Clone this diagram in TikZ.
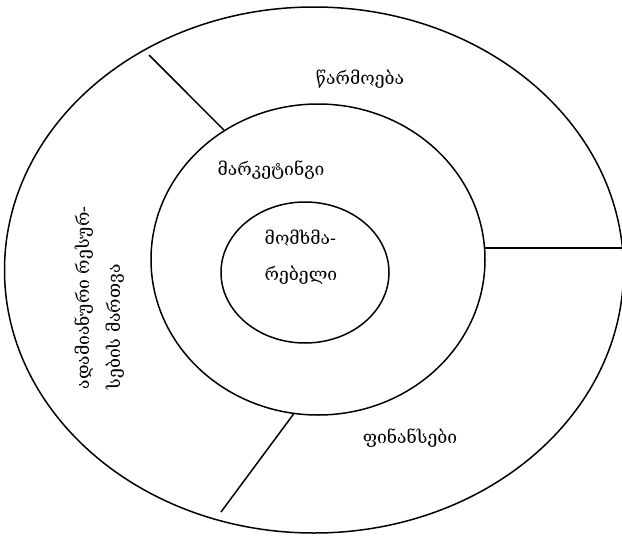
\documentclass[tikz,border=0pt]{standalone}
\usepackage{fontspec}
\setmainfont{DejaVu Serif}
\usetikzlibrary{shapes.geometric}
\begin{document}
\begin{tikzpicture}[x=1pt,y=-1pt,
  ring/.style={draw, ellipse, line width=1.5pt, inner sep=0pt},
  sep/.style={line width=1.5pt},
  lbl/.style={font=\fontsize{17.5}{36}\selectfont, align=center, inner sep=0pt}]
\useasboundingbox (0,0) rectangle (622,536);
\node[ring, minimum width=619pt, minimum height=526pt] (outer) at (314,270) {};
\node[ring, minimum width=334pt, minimum height=311pt] (mid) at (318,259.5) {};
\node[ring, minimum width=168pt, minimum height=141pt] (inner) at (305,272.5) {};
\coordinate (tl) at (149,55);
\coordinate (bl) at (221,512);
\draw[sep] (mid.126) -- (tl);
\draw[sep] (mid.4) -- (mid.4 -| outer.east);
\draw[sep] (mid.261) -- (bl);
\node[lbl] (prod) at (360,79) {წარმოება};
\node[lbl] (mark) at (271,170) {მარკეტინგი};
\node[lbl, align=left] (cons) at (301,257) {მომხმა-\\რებელი};
\node[lbl] (fin) at (410,438) {ფინანსები};
\node[lbl, align=left, rotate=90, font=\fontsize{17.5}{31}\selectfont] (hr) at (100,298) {ადამიანური რესურ-\\სების მართვა};
\end{tikzpicture}
\end{document}
